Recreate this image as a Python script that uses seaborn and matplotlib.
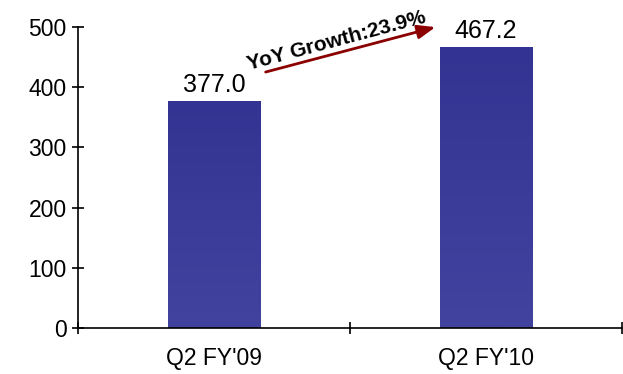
import matplotlib
matplotlib.use("Agg")
import matplotlib.pyplot as plt
import seaborn as sns
import numpy as np
import pandas as pd
from matplotlib.ticker import FixedLocator
from matplotlib.colors import LinearSegmentedColormap

# Quarterly values
quarters = ["Q2 FY'09", "Q2 FY'10"]
values = [377.0, 467.2]
y_ticks = [0, 100, 200, 300, 400, 500]

df = pd.DataFrame({"quarter": quarters, "value": values})
growth = (values[1] / values[0] - 1) * 100

sns.set_theme(style="white")
plt.rcParams["font.family"] = ["Liberation Sans", "DejaVu Sans"]

fig = plt.figure(figsize=(6.23, 3.74), dpi=100)
ax = fig.add_axes([78 / 623, 1 - 328 / 374, 544 / 623, 301 / 374])

sns.barplot(data=df, x="quarter", y="value", color="#38389a", width=0.34,
            saturation=1, ax=ax)

ax.set_xlim(-0.5, 1.5)
ax.set_ylim(0, 500)

# Vertical shading inside each bar (darker at the top)
shade = LinearSegmentedColormap.from_list("shade", ["#42429f", "#333393"])
grad = np.linspace(0, 1, 256).reshape(-1, 1)
for patch in ax.patches:
    x0, y0 = patch.get_x(), patch.get_y()
    w, h = patch.get_width(), patch.get_height()
    im = ax.imshow(grad, cmap=shade, origin="lower", aspect="auto",
                   extent=(x0, x0 + w, y0, y0 + h), zorder=patch.get_zorder())
    im.set_clip_path(patch)
    patch.set_facecolor("none")
    patch.set_edgecolor("none")

ax.set_xlim(-0.5, 1.5)
ax.set_ylim(0, 500)
ax.set_yticks(y_ticks)
ax.set_xlabel("")
ax.set_ylabel("")

for s in ["top", "right"]:
    ax.spines[s].set_visible(False)
for s in ["left", "bottom"]:
    ax.spines[s].set_color("black")
    ax.spines[s].set_linewidth(1.2)
    ax.spines[s].set_zorder(5)

ax.tick_params(axis="y", which="major", direction="inout", length=8.5,
               width=1.2, color="black", labelsize=16.5, pad=4, left=True)
ax.tick_params(axis="x", which="major", length=0, labelsize=16.5, pad=14)
ax.xaxis.set_minor_locator(FixedLocator([-0.5, 0.5, 1.5]))
ax.tick_params(axis="x", which="minor", direction="inout", length=8.5,
               width=1.2, color="black", bottom=True)
for lbl in ax.get_xticklabels() + ax.get_yticklabels():
    lbl.set_color("black")

# Value labels above bars
for i, v in enumerate(values):
    ax.annotate(f"{v:.1f}", (i, v), xytext=(0, 3), textcoords="offset points",
                ha="center", va="bottom", fontsize=18, color="black")

# Growth arrow between the two quarters
ax.annotate("", xy=(0.824, 501), xytext=(0.18, 424),
            arrowprops=dict(arrowstyle="-|>,head_length=0.9,head_width=0.35",
                            color="#8b0000", lw=2),
            annotation_clip=False)
ax.text(0.449, 477, f"YoY Growth:{growth:.1f}%", rotation=15, ha="center",
        va="center", fontsize=15, fontweight="bold", color="black",
        rotation_mode="anchor", clip_on=False)

fig.savefig("out.png", dpi=100)
